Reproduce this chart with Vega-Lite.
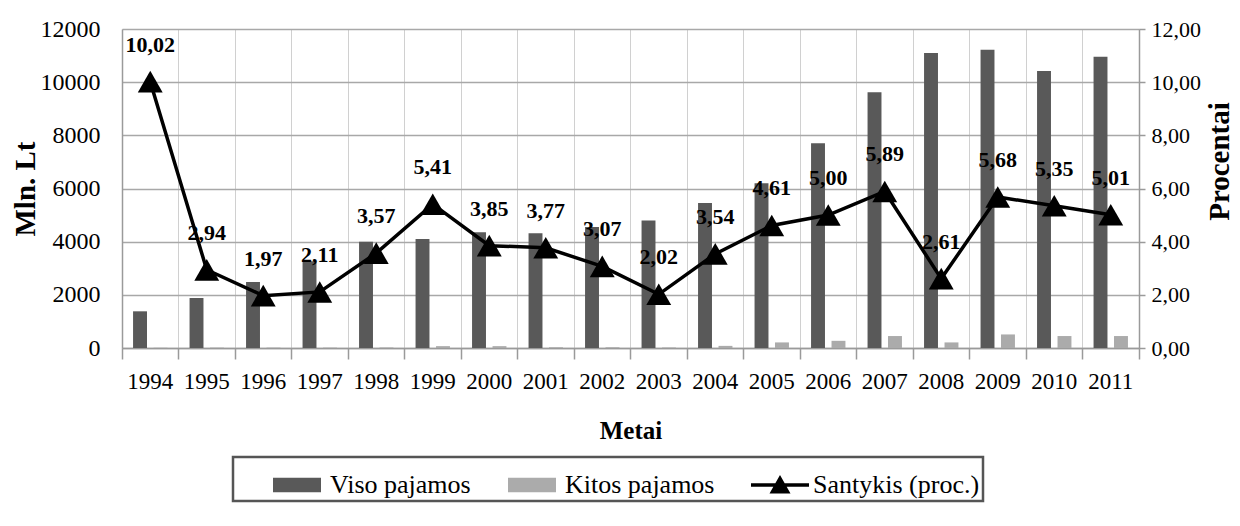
{
  "$schema": "https://vega.github.io/schema/vega-lite/v6.json",
  "width": 1017,
  "height": 319,
  "autosize": {"type": "none"},
  "padding": {"left": 122, "top": 29, "right": 101, "bottom": 178},
  "background": "white",
  "config": {
    "view": {"stroke": null},
    "font": "Liberation Serif",
    "locale": {"number": {"decimal": ",", "thousands": ".", "grouping": [3], "currency": ["", ""]}},
    "axis": {
      "labelFont": "Liberation Serif",
      "titleFont": "Liberation Serif",
      "labelColor": "black",
      "titleColor": "black",
      "domainColor": "#9a9a9a",
      "tickColor": "#9a9a9a",
      "domainWidth": 1.5,
      "tickWidth": 1.5
    }
  },
  "data": {
    "values": [
      {"year": "1994", "viso": 1380, "kitos": 10, "santykis": 10.02},
      {"year": "1995", "viso": 1880, "kitos": 15, "santykis": 2.94},
      {"year": "1996", "viso": 2480, "kitos": 15, "santykis": 1.97},
      {"year": "1997", "viso": 3260, "kitos": 15, "santykis": 2.11},
      {"year": "1998", "viso": 4000, "kitos": 20, "santykis": 3.57},
      {"year": "1999", "viso": 4100, "kitos": 70, "santykis": 5.41},
      {"year": "2000", "viso": 4350, "kitos": 70, "santykis": 3.85},
      {"year": "2001", "viso": 4320, "kitos": 30, "santykis": 3.77},
      {"year": "2002", "viso": 4550, "kitos": 30, "santykis": 3.07},
      {"year": "2003", "viso": 4800, "kitos": 20, "santykis": 2.02},
      {"year": "2004", "viso": 5450, "kitos": 80, "santykis": 3.54},
      {"year": "2005", "viso": 6200, "kitos": 210, "santykis": 4.61},
      {"year": "2006", "viso": 7700, "kitos": 270, "santykis": 5.00},
      {"year": "2007", "viso": 9620, "kitos": 450, "santykis": 5.89},
      {"year": "2008", "viso": 11100, "kitos": 210, "santykis": 2.61},
      {"year": "2009", "viso": 11220, "kitos": 510, "santykis": 5.68},
      {"year": "2010", "viso": 10420, "kitos": 450, "santykis": 5.35},
      {"year": "2011", "viso": 10960, "kitos": 450, "santykis": 5.01}
    ]
  },
  "encoding": {
    "x": {
      "field": "year",
      "type": "ordinal",
      "scale": {"paddingInner": 0, "paddingOuter": 0},
      "axis": {
        "title": "Metai",
        "titleFontSize": 25,
        "titleFontWeight": "bold",
        "titlePadding": 25,
        "labelAngle": 0,
        "labelFontSize": 23,
        "labelPadding": 11,
        "labelOverlap": false,
        "labelBound": false,
        "bandPosition": 1,
        "tickExtra": true,
        "tickSize": 11,
        "grid": true,
        "gridColor": "#d0d0d0",
        "gridWidth": 1
      }
    }
  },
  "layer": [
    {
      "transform": [{"fold": ["viso", "kitos"], "as": ["series", "value"]}],
      "mark": {"type": "bar"},
      "encoding": {
        "xOffset": {
          "field": "series",
          "type": "nominal",
          "sort": ["viso", "kitos"],
          "scale": {"paddingInner": 0.32, "paddingOuter": 0.54}
        },
        "y": {
          "field": "value",
          "type": "quantitative",
          "scale": {"domain": [0, 12000], "nice": false},
          "axis": {
            "title": "Mln. Lt",
            "titleFontSize": 29,
            "titleFontWeight": "bold",
            "titlePadding": 0,
            "labelFontSize": 24,
            "labelPadding": 22,
            "ticks": false,
            "values": [0, 2000, 4000, 6000, 8000, 10000, 12000],
            "format": "d",
            "grid": true,
            "gridColor": "#a8a8a8",
            "gridWidth": 1.5
          }
        },
        "color": {
          "field": "series",
          "type": "nominal",
          "scale": {"domain": ["viso", "kitos", "santykis"], "range": ["#595959", "#ababab", "#000000"]},
          "legend": {
            "orient": "none",
            "legendX": 111,
            "legendY": 428,
            "direction": "horizontal",
            "title": " ",
            "titleOrient": "left",
            "titleFontSize": 1,
            "titlePadding": 36,
            "labelFont": "Liberation Serif",
            "labelFontSize": 26,
            "labelColor": "black",
            "labelOffset": 8,
            "labelLimit": 400,
            "labelExpr": "datum.value == 'viso' ? 'Viso pajamos' : datum.value == 'kitos' ? 'Kitos pajamos' : 'Santykis (proc.)'",
            "symbolSize": 2500,
            "columnPadding": 36,
            "padding": 3,
            "strokeColor": "#555555",
            "fillColor": "white",
            "encode": {
              "legend": {"update": {"strokeWidth": {"value": 2.5}}},
              "symbols": {
                "update": {
                  "shape": {"signal": "datum.value === 'santykis' ? 'M-1.16,-0.07H1.16V0.07H-1.16Z M0,-0.4L0.42,0.34H-0.42Z' : 'M-0.96,-0.29H0.96V0.29H-0.96Z'"},
                  "fill": {"signal": "datum.value === 'viso' ? '#595959' : datum.value === 'kitos' ? '#ababab' : '#000000'"},
                  "stroke": {"value": "transparent"},
                  "strokeWidth": {"value": 0},
                  "opacity": {"value": 1},
                  "size": {"value": 2500}
                }
              }
            }
          }
        }
      }
    },
    {
      "mark": {
        "type": "line",
        "strokeWidth": 3.5,
        "point": {"shape": "triangle-up", "size": 620, "filled": true, "opacity": 1}
      },
      "encoding": {
        "y": {
          "field": "santykis",
          "type": "quantitative",
          "scale": {"domain": [0, 12], "nice": false},
          "axis": {
            "orient": "right",
            "title": "Procentai",
            "titleFontSize": 29,
            "titleFontWeight": "bold",
            "titleAngle": 270,
            "titleAlign": "center",
            "titleBaseline": "middle",
            "titleX": 80,
            "titleY": 132,
            "labelFontSize": 22,
            "labelPadding": 6,
            "tickSize": 6,
            "values": [0, 2, 4, 6, 8, 10, 12],
            "format": ".2f",
            "grid": false
          }
        },
        "color": {"datum": "santykis", "type": "nominal"}
      }
    },
    {
      "mark": {"type": "text", "fontWeight": "bold", "fontSize": 22, "dy": -37, "baseline": "middle", "color": "black", "font": "Liberation Serif"},
      "encoding": {
        "y": {"field": "santykis", "type": "quantitative", "scale": {"domain": [0, 12], "nice": false}, "axis": null},
        "text": {"field": "santykis", "type": "quantitative", "format": ".2f"}
      }
    }
  ],
  "resolve": {"scale": {"y": "independent"}, "axis": {"y": "independent"}}
}
